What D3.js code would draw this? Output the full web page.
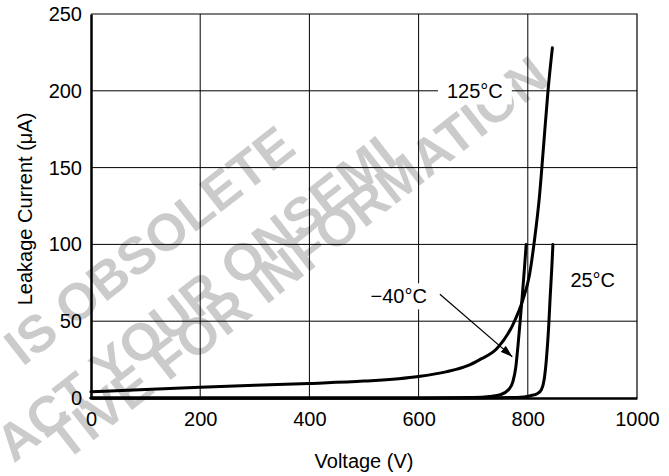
<!DOCTYPE html>
<html>
<head>
<meta charset="utf-8">
<script src="https://cdn.jsdelivr.net/npm/d3@7"></script>
<style>
  body { margin: 0; background: #fff; }
  text { font-family: "Liberation Sans", Arial, Helvetica, sans-serif; }
</style>
</head>
<body>
<div id="chart-area"></div>
<script>
// leakage current vs voltage, three temperatures
var xTicks = [0, 200, 400, 600, 800, 1000];
var yTicks = [0, 50, 100, 150, 200, 250];

// [voltage V, current uA]
var curve125 = [[0, 4], [100, 5.5], [200, 7], [300, 8.3], [400, 9.5], [500, 11], [600, 14],
    [650, 17], [690, 21], [712, 25], [743, 32], [773, 48], [791, 64], [803, 80],
    [813, 105], [821, 130], [828, 160], [837, 200], [845, 228]];
var curveMinus40 = [[0, 0], [600, 0], [700, 0.3], [730, 1], [750, 2.2], [765, 5.5], [773, 11],
    [778, 20], [782, 34], [786, 50], [790, 67], [794, 85], [797, 100]];
var curve25 = [[0, 0], [700, 0], [780, 0.4], [805, 1.5], [818, 3], [825, 5.5], [830, 12],
    [834, 25], [838, 45], [841, 66], [844, 85], [846, 100]];

// visible part of the watermark
var watermark = ["IS OBSOLETE", "ACT YOUR ONSEMI", "TIVE FOR INFORMATION"];

var margin = { left: 91, right: 32, top: 14, bottom: 78 };
var width = 669 - margin.left - margin.right;
var height = 476 - margin.top - margin.bottom;

var svg = d3.select("#chart-area").append("svg")
    .attr("width", 669)
    .attr("height", 476);

svg.append("defs").append("marker")
    .attr("id", "arrow")
    .attr("viewBox", "0 0 12 8")
    .attr("refX", 12)
    .attr("refY", 4)
    .attr("markerWidth", 12)
    .attr("markerHeight", 8)
    .attr("markerUnits", "userSpaceOnUse")
    .attr("orient", "auto")
  .append("path")
    .attr("d", "M0,0 L12,4 L0,8 Z")
    .attr("fill", "black");

// watermark behind everything
var wm = svg.append("g").attr("class", "watermark");
var wmEnds = [[298, 152], [400, 162], [552, 82]];
watermark.forEach((t, i) => {
    wm.append("text")
        .attr("transform", "translate(" + wmEnds[i][0] + "," + wmEnds[i][1] + ") rotate(-38)")
        .attr("text-anchor", "end")
        .attr("font-size", "52px")
        .attr("font-weight", "bold")
        .attr("fill", "#cbcbcb")
        .text(t);
});

var g = svg.append("g")
    .attr("transform", "translate(" + margin.left + ", " + margin.top + ")");

var x = d3.scaleLinear().domain([0, 1000]).range([0, width]);
var y = d3.scaleLinear().domain([0, 250]).range([height, 0]);

// grid
g.selectAll("line.vgrid")
    .data(xTicks.slice(1, -1))
    .enter().append("line")
    .attr("class", "vgrid")
    .attr("x1", (d) => x(d)).attr("x2", (d) => x(d))
    .attr("y1", 0).attr("y2", height)
    .attr("stroke", "black").attr("stroke-width", 1);

g.selectAll("line.hgrid")
    .data(yTicks.slice(1, -1))
    .enter().append("line")
    .attr("class", "hgrid")
    .attr("x1", 0).attr("x2", width)
    .attr("y1", (d) => y(d)).attr("y2", (d) => y(d))
    .attr("stroke", "black").attr("stroke-width", 1);

// top and right frame
g.append("path")
    .attr("d", "M0,0 H" + width + " V" + height)
    .attr("fill", "none")
    .attr("stroke", "black")
    .attr("stroke-width", 1.2);

// annotation labels with white boxes to break the grid
var labels = [
    { text: "125°C", v: 652, c: 195 },
    { text: "\u221240°C", v: 512, c: 61.6 },
    { text: "25°C", v: 878, c: 72 }
];
labels.forEach((l) => {
    var t = g.append("text")
        .attr("x", x(l.v))
        .attr("y", y(l.c))
        .attr("font-size", "20px")
        .attr("fill", "black")
        .text(l.text);
    var b = t.node().getBBox();
    g.insert("rect", () => t.node())
        .attr("x", b.x - 9)
        .attr("y", b.y - 2)
        .attr("width", b.width + 18)
        .attr("height", b.height + 4)
        .attr("fill", "white");
});

// axes
var fmt = d3.format("d");
var bottomAxis = d3.axisBottom(x).tickValues(xTicks).tickSize(0).tickPadding(14).tickFormat(fmt);
g.append("g")
    .attr("class", "bottom axis")
    .attr("transform", "translate(0, " + height + ")")
    .call(bottomAxis)
    .call((s) => s.select(".domain").attr("stroke-width", 2.5))
  .selectAll("text")
    .attr("font-size", "20px")
    .attr("font-family", "Liberation Sans, Arial, sans-serif");

var leftAxis = d3.axisLeft(y).tickValues(yTicks).tickSize(0).tickPadding(9).tickFormat(fmt);
g.append("g")
    .attr("class", "left axis")
    .call(leftAxis)
    .call((s) => s.select(".domain").attr("stroke-width", 2.5))
  .selectAll("text")
    .attr("font-size", "20px")
    .attr("font-family", "Liberation Sans, Arial, sans-serif");

// arrow from -40 label to its curve
g.append("line")
    .attr("x1", x(639)).attr("y1", y(67.5))
    .attr("x2", x(771.6)).attr("y2", y(26.9))
    .attr("stroke", "black")
    .attr("stroke-width", 1.2)
    .attr("marker-end", "url(#arrow)");

var line = d3.line()
    .x((d) => x(d[0]))
    .y((d) => y(d[1]))
    .curve(d3.curveMonotoneX);

[curve125, curveMinus40, curve25].forEach((c) => {
    g.append("path")
        .datum(c)
        .attr("d", line)
        .attr("fill", "none")
        .attr("stroke", "black")
        .attr("stroke-width", 3)
        .attr("stroke-linecap", "round");
});

// axis titles
g.append("text")
    .attr("x", width / 2)
    .attr("y", height + 70)
    .attr("font-size", "20px")
    .attr("text-anchor", "middle")
    .style("fill", "black")
    .text("Voltage (V)");

g.append("text")
    .attr("x", -(209 - margin.top))
    .attr("y", 32 - margin.left)
    .attr("font-size", "20px")
    .attr("text-anchor", "middle")
    .style("fill", "black")
    .attr("transform", "rotate(-90)")
    .text("Leakage Current (\u03bcA)");
</script>
</body>
</html>
